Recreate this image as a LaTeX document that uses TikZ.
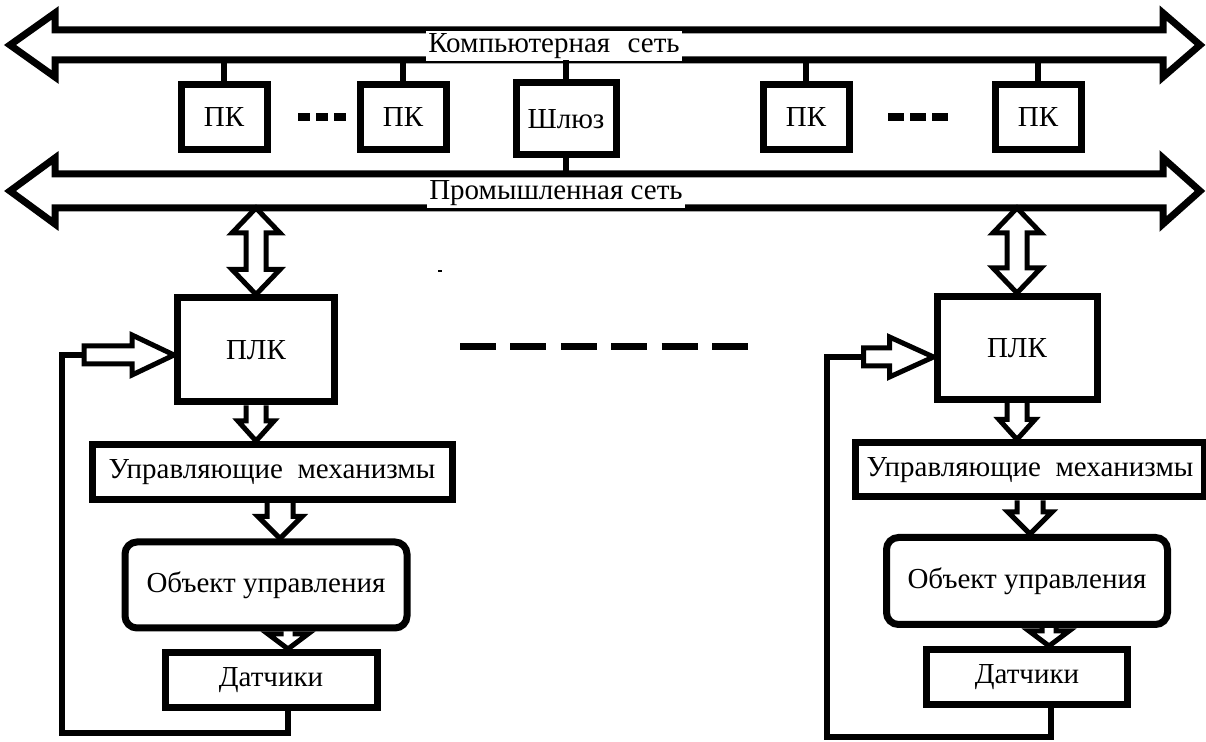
\documentclass[tikz,border=0pt]{standalone}
\usepackage{fontspec}
\setmainfont{Liberation Serif}
\usepackage{tikz}
\usetikzlibrary{calc}
\newcommand{\netfont}{\fontsize{14.5}{17}\selectfont}
% hollow block arrows: #1 start, #2 tip, #3 shaft half width, #4 head half width, #5 head length
\newcommand{\downfat}[5]{\draw[fat] ($(#1)+(-#3,0)$) -- ($(#2)+(-#3,-#5)$) -- ($(#2)+(-#4,-#5)$) -- (#2) -- ($(#2)+(#4,-#5)$) -- ($(#2)+(#3,-#5)$) -- ($(#1)+(#3,0)$);}
\newcommand{\rightfat}[5]{\draw[fat] ($(#1)+(0,-#3)$) -- ($(#2)+(-#5,-#3)$) -- ($(#2)+(-#5,-#4)$) -- (#2) -- ($(#2)+(-#5,#4)$) -- ($(#2)+(-#5,#3)$) -- ($(#1)+(0,#3)$) -- cycle;}
\newcommand{\updownfat}[5]{\draw[fat] (#1) -- ($(#1)+(#4,#5)$) -- ($(#1)+(#3,#5)$) -- ($(#2)+(#3,-#5)$) -- ($(#2)+(#4,-#5)$) -- (#2) -- ($(#2)+(-#4,-#5)$) -- ($(#2)+(-#3,-#5)$) -- ($(#1)+(-#3,#5)$) -- ($(#1)+(-#4,#5)$) -- cycle;}
\tikzset{
  box/.style={draw, line width=3.5pt, inner sep=2pt, font=\netfont},
  pcbox/.style={box, minimum width=43pt, minimum height=32.5pt},
  roundbox/.style={box, rounded corners=6pt},
  bus/.style={line width=3.5pt, line join=miter},
  bustext/.style={fill=white, inner sep=1pt, font=\netfont},
  wire/.style={line width=3pt},
  fat/.style={line width=2.5pt, line join=miter},
  dotline/.style={line width=4pt, dash pattern=on 6pt off 3pt},
  moreline/.style={line width=3.5pt, dash pattern=on 18pt off 7.2pt}
}

\begin{document}
\begin{tikzpicture}[x=0.5pt, y=-0.5pt]
  \useasboundingbox (0,0) rectangle (1206,742);
  % Networks as fat double arrows
  \draw[bus] (55,30) -- (1163,30) -- (1163,13) -- (1200,45) -- (1163,77) -- (1163,60)
    -- (55,60) -- (55,77) -- (10,45) -- (55,13) -- cycle;
  \draw[bus] (55,174) -- (1163,174) -- (1163,158) -- (1200,191) -- (1163,224) -- (1163,208)
    -- (55,208) -- (55,224) -- (10,191) -- (55,158) -- cycle;
  \coordinate (cbus) at (0,60);
  \coordinate (ibusT) at (0,174);
  \coordinate (ibusB) at (0,208);
  \node[bustext] (cnet) at (554,46) {Компьютерная\hspace{0.6em}сеть};
  \node[bustext] (inet) at (556,193) {Промышленная сеть};
  % Computers and gateway
  \node[pcbox] (pc1) at (224,117) {ПК};
  \node[pcbox] (pc2) at (403,117) {ПК};
  \node[pcbox, minimum width=50pt, minimum height=36pt] (gw) at (566,119) {Шлюз};
  \node[pcbox] (pc3) at (806,117) {ПК};
  \node[pcbox] (pc4) at (1038,117) {ПК};
  \foreach \n in {pc1, pc2, gw, pc3, pc4} {
    \draw[wire] (\n.north) -- (\n.north |- cbus);
  }
  \draw[wire] (gw.south) -- (gw.south |- ibusT);
  \draw[dotline] (298,117) -- (346,117);
  \draw[dotline, dash pattern=on 8pt off 3pt] (888,117) -- (950,117);
  % Left control loop
  \node[box, minimum width=78.5pt, minimum height=52pt] (plcL) at (256,350) {ПЛК};
  \node[box, minimum width=180pt, minimum height=27.5pt] (mechL) at (272,472) {Управляющие~ механизмы};
  \node[roundbox, minimum width=141pt, minimum height=43pt] (objL) at (266,585) {Объект управления};
  \node[box, minimum width=106pt, minimum height=27.5pt] (sensL) at (271,680) {Датчики};
  \updownfat{plcL.north |- ibusB}{plcL.north}{10}{24}{25};
  \downfat{plcL.south}{plcL.south |- mechL.north}{10}{18}{20};
  \coordinate (aL2) at ($(mechL.south)+(8,0)$);
  \downfat{aL2}{aL2 |- objL.north}{13}{22}{22};
  \coordinate (aL3) at ($(objL.south)+(22,0)$);
  \downfat{aL3}{aL3 |- sensL.north}{7}{20}{15};
  \coordinate (fbL) at ($(plcL.west)+(-90,5)$);
  \coordinate (loopL) at (62,733);
  \draw[wire] ($(sensL.south)+(17,0)$) |- (loopL) |- (fbL);
  \rightfat{fbL}{fbL -| plcL.west}{9}{20}{42};
  % Right control loop
  \node[box, minimum width=80pt, minimum height=51.5pt] (plcR) at (1017,348) {ПЛК};
  \node[box, minimum width=174.5pt, minimum height=27pt] (mechR) at (1030,470) {Управляющие~ механизмы};
  \node[roundbox, minimum width=140.5pt, minimum height=43.5pt] (objR) at (1027,581) {Объект управления};
  \node[box, minimum width=100.5pt, minimum height=27.5pt] (sensR) at (1027,677) {Датчики};
  \updownfat{plcR.north |- ibusB}{plcR.north}{10}{24}{25};
  \downfat{plcR.south}{plcR.south |- mechR.north}{10}{18}{20};
  \coordinate (aR2) at (mechR.south);
  \downfat{aR2}{aR2 |- objR.north}{13}{22}{22};
  \coordinate (aR3) at ($(objR.south)+(22,0)$);
  \downfat{aR3}{aR3 |- sensR.north}{7}{20}{15};
  \coordinate (fbR) at ($(plcR.west)+(-90,9)$);
  \coordinate (loopR) at (827,737);
  \draw[wire] ($(sensR.south)+(24,0)$) |- (loopR) |- (fbR);
  \draw[wire] (fbR) -- ++(20,0) coordinate (fbR2);
  \rightfat{fbR2}{fbR2 -| plcR.west}{9}{20}{44};
  % more loops in between
  \draw[moreline] (460,347) -- (748,347);
  \draw[line width=1pt] (438,271) -- (442,271);
\end{tikzpicture}
\end{document}
